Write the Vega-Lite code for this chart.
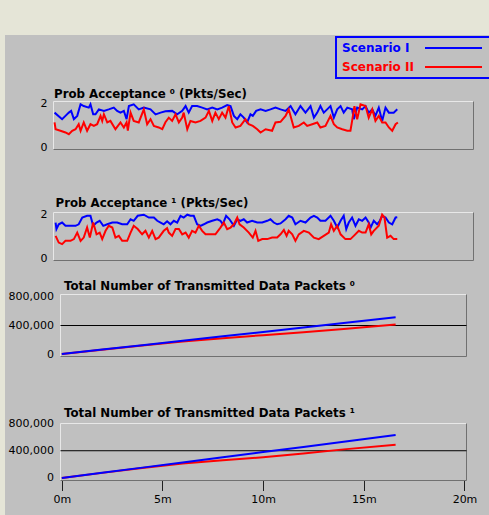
{
"$schema": "https://vega.github.io/schema/vega-lite/v6.json",
"width": 484, "height": 480,
"autosize": {"type": "none"},
"padding": {"left": 5, "top": 35, "right": 0, "bottom": 0},
"background": "#e5e5d7",
"config": {
  "view": {"fill": "#c0c0c0", "stroke": null},
  "font": "DejaVu Sans",
  "axis": {"domain": false, "ticks": false, "grid": false, "tickSize": 0, "labelFont": "DejaVu Sans", "labelFontSize": 11, "labelColor": "#000000", "titleFont": "DejaVu Sans", "titleFontSize": 11.8, "titleFontWeight": "bold", "titleColor": "#000000", "titleAngle": 0, "titleAlign": "left", "titleBaseline": "alphabetic", "labelPadding": 6.5},
  "legend": {"strokeWidth": 2}
},
"datasets": {
"p1": [
{"t":0.05,"v":1.59,"s":"Scenario I"},{"t":0.41,"v":1.29,"s":"Scenario I"},{"t":0.57,"v":1.44,"s":"Scenario I"},{"t":0.73,"v":1.59,"s":"Scenario I"},{"t":0.84,"v":1.67,"s":"Scenario I"},{"t":0.97,"v":1.29,"s":"Scenario I"},{"t":1.13,"v":1.44,"s":"Scenario I"},{"t":1.29,"v":1.97,"s":"Scenario I"},{"t":1.44,"v":1.89,"s":"Scenario I"},{"t":1.68,"v":1.82,"s":"Scenario I"},{"t":1.76,"v":1.97,"s":"Scenario I"},{"t":1.89,"v":1.51,"s":"Scenario I"},{"t":2.0,"v":1.51,"s":"Scenario I"},{"t":2.16,"v":1.74,"s":"Scenario I"},{"t":2.4,"v":1.67,"s":"Scenario I"},{"t":2.63,"v":1.74,"s":"Scenario I"},{"t":2.87,"v":1.82,"s":"Scenario I"},{"t":3.03,"v":1.67,"s":"Scenario I"},{"t":3.19,"v":1.59,"s":"Scenario I"},{"t":3.35,"v":1.67,"s":"Scenario I"},{"t":3.48,"v":1.29,"s":"Scenario I"},{"t":3.59,"v":1.89,"s":"Scenario I"},{"t":3.82,"v":1.97,"s":"Scenario I"},{"t":4.06,"v":1.74,"s":"Scenario I"},{"t":4.3,"v":1.82,"s":"Scenario I"},{"t":4.62,"v":1.74,"s":"Scenario I"},{"t":4.86,"v":1.51,"s":"Scenario I"},{"t":5.1,"v":1.59,"s":"Scenario I"},{"t":5.33,"v":1.65,"s":"Scenario I"},{"t":5.65,"v":1.67,"s":"Scenario I"},{"t":5.89,"v":1.51,"s":"Scenario I"},{"t":6.13,"v":1.67,"s":"Scenario I"},{"t":6.29,"v":1.89,"s":"Scenario I"},{"t":6.44,"v":1.59,"s":"Scenario I"},{"t":6.6,"v":1.89,"s":"Scenario I"},{"t":6.84,"v":1.89,"s":"Scenario I"},{"t":7.08,"v":1.82,"s":"Scenario I"},{"t":7.32,"v":1.74,"s":"Scenario I"},{"t":7.56,"v":1.82,"s":"Scenario I"},{"t":7.8,"v":1.74,"s":"Scenario I"},{"t":8.03,"v":1.82,"s":"Scenario I"},{"t":8.27,"v":1.94,"s":"Scenario I"},{"t":8.43,"v":1.89,"s":"Scenario I"},{"t":8.59,"v":1.44,"s":"Scenario I"},{"t":8.75,"v":1.29,"s":"Scenario I"},{"t":8.9,"v":1.51,"s":"Scenario I"},{"t":9.06,"v":1.36,"s":"Scenario I"},{"t":9.22,"v":1.14,"s":"Scenario I"},{"t":9.38,"v":1.51,"s":"Scenario I"},{"t":9.49,"v":1.44,"s":"Scenario I"},{"t":9.65,"v":1.67,"s":"Scenario I"},{"t":9.86,"v":1.74,"s":"Scenario I"},{"t":10.1,"v":1.67,"s":"Scenario I"},{"t":10.33,"v":1.74,"s":"Scenario I"},{"t":10.57,"v":1.82,"s":"Scenario I"},{"t":10.81,"v":1.74,"s":"Scenario I"},{"t":11.05,"v":1.67,"s":"Scenario I"},{"t":11.29,"v":1.89,"s":"Scenario I"},{"t":11.52,"v":1.51,"s":"Scenario I"},{"t":11.76,"v":1.89,"s":"Scenario I"},{"t":12.0,"v":1.59,"s":"Scenario I"},{"t":12.24,"v":1.89,"s":"Scenario I"},{"t":12.4,"v":1.36,"s":"Scenario I"},{"t":12.56,"v":1.59,"s":"Scenario I"},{"t":12.71,"v":1.89,"s":"Scenario I"},{"t":12.87,"v":1.59,"s":"Scenario I"},{"t":13.03,"v":1.74,"s":"Scenario I"},{"t":13.19,"v":1.89,"s":"Scenario I"},{"t":13.35,"v":1.36,"s":"Scenario I"},{"t":13.51,"v":1.74,"s":"Scenario I"},{"t":13.67,"v":1.89,"s":"Scenario I"},{"t":13.82,"v":1.59,"s":"Scenario I"},{"t":13.99,"v":1.82,"s":"Scenario I"},{"t":14.22,"v":1.74,"s":"Scenario I"},{"t":14.3,"v":1.29,"s":"Scenario I"},{"t":14.46,"v":1.82,"s":"Scenario I"},{"t":14.7,"v":1.74,"s":"Scenario I"},{"t":14.86,"v":1.89,"s":"Scenario I"},{"t":15.01,"v":1.59,"s":"Scenario I"},{"t":15.18,"v":1.74,"s":"Scenario I"},{"t":15.33,"v":1.44,"s":"Scenario I"},{"t":15.49,"v":1.82,"s":"Scenario I"},{"t":15.65,"v":1.21,"s":"Scenario I"},{"t":15.81,"v":1.82,"s":"Scenario I"},{"t":15.97,"v":1.59,"s":"Scenario I"},{"t":16.2,"v":1.59,"s":"Scenario I"},{"t":16.37,"v":1.74,"s":"Scenario I"},
{"t":0.05,"v":1.14,"s":"Scenario II"},{"t":0.1,"v":0.83,"s":"Scenario II"},{"t":0.33,"v":0.76,"s":"Scenario II"},{"t":0.57,"v":0.68,"s":"Scenario II"},{"t":0.73,"v":0.6,"s":"Scenario II"},{"t":0.89,"v":0.76,"s":"Scenario II"},{"t":1.05,"v":0.83,"s":"Scenario II"},{"t":1.2,"v":1.06,"s":"Scenario II"},{"t":1.29,"v":0.76,"s":"Scenario II"},{"t":1.44,"v":1.14,"s":"Scenario II"},{"t":1.6,"v":0.76,"s":"Scenario II"},{"t":1.76,"v":1.06,"s":"Scenario II"},{"t":1.92,"v":0.98,"s":"Scenario II"},{"t":2.08,"v":1.06,"s":"Scenario II"},{"t":2.24,"v":1.44,"s":"Scenario II"},{"t":2.32,"v":1.21,"s":"Scenario II"},{"t":2.4,"v":1.51,"s":"Scenario II"},{"t":2.56,"v":1.14,"s":"Scenario II"},{"t":2.71,"v":1.21,"s":"Scenario II"},{"t":2.95,"v":0.83,"s":"Scenario II"},{"t":3.19,"v":1.14,"s":"Scenario II"},{"t":3.35,"v":0.91,"s":"Scenario II"},{"t":3.48,"v":1.14,"s":"Scenario II"},{"t":3.54,"v":0.77,"s":"Scenario II"},{"t":3.67,"v":1.59,"s":"Scenario II"},{"t":3.82,"v":1.21,"s":"Scenario II"},{"t":4.06,"v":1.14,"s":"Scenario II"},{"t":4.3,"v":1.74,"s":"Scenario II"},{"t":4.46,"v":1.06,"s":"Scenario II"},{"t":4.62,"v":1.29,"s":"Scenario II"},{"t":4.78,"v":0.98,"s":"Scenario II"},{"t":5.01,"v":0.91,"s":"Scenario II"},{"t":5.18,"v":0.83,"s":"Scenario II"},{"t":5.33,"v":1.15,"s":"Scenario II"},{"t":5.49,"v":1.36,"s":"Scenario II"},{"t":5.65,"v":1.21,"s":"Scenario II"},{"t":5.81,"v":1.51,"s":"Scenario II"},{"t":5.97,"v":1.14,"s":"Scenario II"},{"t":6.13,"v":1.36,"s":"Scenario II"},{"t":6.2,"v":1.59,"s":"Scenario II"},{"t":6.37,"v":0.83,"s":"Scenario II"},{"t":6.52,"v":1.21,"s":"Scenario II"},{"t":6.76,"v":1.14,"s":"Scenario II"},{"t":7.0,"v":1.21,"s":"Scenario II"},{"t":7.24,"v":1.36,"s":"Scenario II"},{"t":7.4,"v":1.67,"s":"Scenario II"},{"t":7.56,"v":1.21,"s":"Scenario II"},{"t":7.71,"v":1.59,"s":"Scenario II"},{"t":7.87,"v":1.29,"s":"Scenario II"},{"t":8.03,"v":1.59,"s":"Scenario II"},{"t":8.19,"v":1.36,"s":"Scenario II"},{"t":8.35,"v":1.89,"s":"Scenario II"},{"t":8.51,"v":1.14,"s":"Scenario II"},{"t":8.67,"v":0.91,"s":"Scenario II"},{"t":8.9,"v":0.98,"s":"Scenario II"},{"t":9.14,"v":1.29,"s":"Scenario II"},{"t":9.3,"v":1.06,"s":"Scenario II"},{"t":9.49,"v":0.98,"s":"Scenario II"},{"t":9.7,"v":0.83,"s":"Scenario II"},{"t":9.86,"v":0.68,"s":"Scenario II"},{"t":10.1,"v":0.83,"s":"Scenario II"},{"t":10.41,"v":0.76,"s":"Scenario II"},{"t":10.57,"v":1.14,"s":"Scenario II"},{"t":10.81,"v":1.17,"s":"Scenario II"},{"t":11.05,"v":1.44,"s":"Scenario II"},{"t":11.2,"v":1.74,"s":"Scenario II"},{"t":11.44,"v":0.91,"s":"Scenario II"},{"t":11.68,"v":0.98,"s":"Scenario II"},{"t":11.92,"v":1.14,"s":"Scenario II"},{"t":12.08,"v":0.98,"s":"Scenario II"},{"t":12.32,"v":1.06,"s":"Scenario II"},{"t":12.56,"v":1.14,"s":"Scenario II"},{"t":12.71,"v":0.91,"s":"Scenario II"},{"t":12.95,"v":0.98,"s":"Scenario II"},{"t":13.19,"v":1.44,"s":"Scenario II"},{"t":13.35,"v":1.06,"s":"Scenario II"},{"t":13.51,"v":0.91,"s":"Scenario II"},{"t":13.75,"v":0.83,"s":"Scenario II"},{"t":13.99,"v":0.76,"s":"Scenario II"},{"t":14.14,"v":0.76,"s":"Scenario II"},{"t":14.22,"v":1.21,"s":"Scenario II"},{"t":14.33,"v":1.89,"s":"Scenario II"},{"t":14.46,"v":1.29,"s":"Scenario II"},{"t":14.62,"v":1.97,"s":"Scenario II"},{"t":14.86,"v":1.89,"s":"Scenario II"},{"t":15.01,"v":1.36,"s":"Scenario II"},{"t":15.18,"v":1.74,"s":"Scenario II"},{"t":15.33,"v":1.21,"s":"Scenario II"},{"t":15.49,"v":1.44,"s":"Scenario II"},{"t":15.65,"v":1.14,"s":"Scenario II"},{"t":15.81,"v":1.14,"s":"Scenario II"},{"t":15.97,"v":0.91,"s":"Scenario II"},{"t":16.13,"v":0.76,"s":"Scenario II"},{"t":16.29,"v":1.06,"s":"Scenario II"},{"t":16.4,"v":1.14,"s":"Scenario II"}
],
"p2": [
{"t":0.1,"v":1.64,"s":"Scenario I"},{"t":0.14,"v":1.34,"s":"Scenario I"},{"t":0.25,"v":1.56,"s":"Scenario I"},{"t":0.41,"v":1.64,"s":"Scenario I"},{"t":0.57,"v":1.49,"s":"Scenario I"},{"t":0.81,"v":1.49,"s":"Scenario I"},{"t":1.05,"v":1.49,"s":"Scenario I"},{"t":1.2,"v":1.56,"s":"Scenario I"},{"t":1.37,"v":1.87,"s":"Scenario I"},{"t":1.6,"v":1.95,"s":"Scenario I"},{"t":1.76,"v":1.95,"s":"Scenario I"},{"t":1.89,"v":1.49,"s":"Scenario I"},{"t":2.05,"v":1.64,"s":"Scenario I"},{"t":2.2,"v":1.72,"s":"Scenario I"},{"t":2.37,"v":1.49,"s":"Scenario I"},{"t":2.56,"v":1.56,"s":"Scenario I"},{"t":2.8,"v":1.64,"s":"Scenario I"},{"t":3.03,"v":1.64,"s":"Scenario I"},{"t":3.27,"v":1.56,"s":"Scenario I"},{"t":3.51,"v":1.56,"s":"Scenario I"},{"t":3.67,"v":1.79,"s":"Scenario I"},{"t":3.82,"v":1.72,"s":"Scenario I"},{"t":4.01,"v":1.95,"s":"Scenario I"},{"t":4.3,"v":2.0,"s":"Scenario I"},{"t":4.54,"v":1.87,"s":"Scenario I"},{"t":4.78,"v":1.87,"s":"Scenario I"},{"t":4.94,"v":1.72,"s":"Scenario I"},{"t":5.1,"v":1.64,"s":"Scenario I"},{"t":5.25,"v":1.56,"s":"Scenario I"},{"t":5.41,"v":1.7,"s":"Scenario I"},{"t":5.57,"v":1.56,"s":"Scenario I"},{"t":5.73,"v":1.72,"s":"Scenario I"},{"t":5.89,"v":1.64,"s":"Scenario I"},{"t":6.05,"v":1.95,"s":"Scenario I"},{"t":6.2,"v":1.87,"s":"Scenario I"},{"t":6.37,"v":2.0,"s":"Scenario I"},{"t":6.52,"v":1.95,"s":"Scenario I"},{"t":6.68,"v":1.95,"s":"Scenario I"},{"t":6.84,"v":1.56,"s":"Scenario I"},{"t":7.0,"v":1.49,"s":"Scenario I"},{"t":7.16,"v":1.56,"s":"Scenario I"},{"t":7.32,"v":1.64,"s":"Scenario I"},{"t":7.56,"v":1.72,"s":"Scenario I"},{"t":7.8,"v":1.79,"s":"Scenario I"},{"t":7.95,"v":1.72,"s":"Scenario I"},{"t":8.06,"v":1.56,"s":"Scenario I"},{"t":8.22,"v":1.95,"s":"Scenario I"},{"t":8.38,"v":1.79,"s":"Scenario I"},{"t":8.59,"v":1.49,"s":"Scenario I"},{"t":8.75,"v":1.79,"s":"Scenario I"},{"t":8.9,"v":1.72,"s":"Scenario I"},{"t":9.06,"v":1.79,"s":"Scenario I"},{"t":9.22,"v":1.64,"s":"Scenario I"},{"t":9.46,"v":1.72,"s":"Scenario I"},{"t":9.7,"v":1.64,"s":"Scenario I"},{"t":9.94,"v":1.64,"s":"Scenario I"},{"t":10.18,"v":1.72,"s":"Scenario I"},{"t":10.33,"v":1.79,"s":"Scenario I"},{"t":10.49,"v":1.64,"s":"Scenario I"},{"t":10.65,"v":1.56,"s":"Scenario I"},{"t":10.81,"v":1.6,"s":"Scenario I"},{"t":11.05,"v":1.79,"s":"Scenario I"},{"t":11.2,"v":1.95,"s":"Scenario I"},{"t":11.37,"v":1.87,"s":"Scenario I"},{"t":11.52,"v":1.56,"s":"Scenario I"},{"t":11.76,"v":1.72,"s":"Scenario I"},{"t":12.0,"v":1.64,"s":"Scenario I"},{"t":12.24,"v":1.87,"s":"Scenario I"},{"t":12.4,"v":1.95,"s":"Scenario I"},{"t":12.56,"v":1.87,"s":"Scenario I"},{"t":12.71,"v":1.72,"s":"Scenario I"},{"t":12.95,"v":1.72,"s":"Scenario I"},{"t":13.19,"v":1.95,"s":"Scenario I"},{"t":13.35,"v":1.72,"s":"Scenario I"},{"t":13.51,"v":1.41,"s":"Scenario I"},{"t":13.67,"v":1.72,"s":"Scenario I"},{"t":13.82,"v":1.95,"s":"Scenario I"},{"t":13.94,"v":1.34,"s":"Scenario I"},{"t":14.06,"v":1.64,"s":"Scenario I"},{"t":14.22,"v":1.87,"s":"Scenario I"},{"t":14.38,"v":1.49,"s":"Scenario I"},{"t":14.54,"v":1.79,"s":"Scenario I"},{"t":14.7,"v":1.72,"s":"Scenario I"},{"t":14.86,"v":1.87,"s":"Scenario I"},{"t":15.01,"v":1.64,"s":"Scenario I"},{"t":15.1,"v":1.41,"s":"Scenario I"},{"t":15.25,"v":1.72,"s":"Scenario I"},{"t":15.41,"v":1.56,"s":"Scenario I"},{"t":15.54,"v":1.72,"s":"Scenario I"},{"t":15.65,"v":1.95,"s":"Scenario I"},{"t":15.81,"v":1.87,"s":"Scenario I"},{"t":15.97,"v":1.64,"s":"Scenario I"},{"t":16.13,"v":1.56,"s":"Scenario I"},{"t":16.29,"v":1.87,"s":"Scenario I"},{"t":16.37,"v":1.88,"s":"Scenario I"},
{"t":0.1,"v":1.03,"s":"Scenario II"},{"t":0.25,"v":0.72,"s":"Scenario II"},{"t":0.41,"v":0.65,"s":"Scenario II"},{"t":0.57,"v":0.8,"s":"Scenario II"},{"t":0.81,"v":0.8,"s":"Scenario II"},{"t":0.97,"v":0.88,"s":"Scenario II"},{"t":1.13,"v":1.18,"s":"Scenario II"},{"t":1.29,"v":0.8,"s":"Scenario II"},{"t":1.44,"v":0.95,"s":"Scenario II"},{"t":1.6,"v":1.41,"s":"Scenario II"},{"t":1.73,"v":0.95,"s":"Scenario II"},{"t":1.89,"v":1.64,"s":"Scenario II"},{"t":2.05,"v":1.1,"s":"Scenario II"},{"t":2.2,"v":1.18,"s":"Scenario II"},{"t":2.32,"v":0.88,"s":"Scenario II"},{"t":2.48,"v":1.26,"s":"Scenario II"},{"t":2.63,"v":1.49,"s":"Scenario II"},{"t":2.8,"v":1.41,"s":"Scenario II"},{"t":2.95,"v":0.95,"s":"Scenario II"},{"t":3.11,"v":1.03,"s":"Scenario II"},{"t":3.27,"v":0.8,"s":"Scenario II"},{"t":3.51,"v":0.8,"s":"Scenario II"},{"t":3.67,"v":1.18,"s":"Scenario II"},{"t":3.82,"v":1.49,"s":"Scenario II"},{"t":4.01,"v":1.34,"s":"Scenario II"},{"t":4.22,"v":1.1,"s":"Scenario II"},{"t":4.38,"v":1.26,"s":"Scenario II"},{"t":4.54,"v":0.95,"s":"Scenario II"},{"t":4.7,"v":1.26,"s":"Scenario II"},{"t":4.86,"v":0.88,"s":"Scenario II"},{"t":5.01,"v":0.95,"s":"Scenario II"},{"t":5.25,"v":1.26,"s":"Scenario II"},{"t":5.41,"v":1.38,"s":"Scenario II"},{"t":5.49,"v":1.18,"s":"Scenario II"},{"t":5.65,"v":1.03,"s":"Scenario II"},{"t":5.81,"v":1.34,"s":"Scenario II"},{"t":5.97,"v":1.34,"s":"Scenario II"},{"t":6.13,"v":1.1,"s":"Scenario II"},{"t":6.29,"v":1.18,"s":"Scenario II"},{"t":6.44,"v":0.95,"s":"Scenario II"},{"t":6.6,"v":1.26,"s":"Scenario II"},{"t":6.76,"v":1.18,"s":"Scenario II"},{"t":6.92,"v":1.49,"s":"Scenario II"},{"t":7.08,"v":1.26,"s":"Scenario II"},{"t":7.24,"v":1.1,"s":"Scenario II"},{"t":7.48,"v":1.1,"s":"Scenario II"},{"t":7.71,"v":1.1,"s":"Scenario II"},{"t":7.95,"v":1.41,"s":"Scenario II"},{"t":8.11,"v":1.64,"s":"Scenario II"},{"t":8.27,"v":1.34,"s":"Scenario II"},{"t":8.43,"v":1.41,"s":"Scenario II"},{"t":8.59,"v":1.56,"s":"Scenario II"},{"t":8.75,"v":1.87,"s":"Scenario II"},{"t":8.86,"v":1.56,"s":"Scenario II"},{"t":9.06,"v":1.41,"s":"Scenario II"},{"t":9.3,"v":1.18,"s":"Scenario II"},{"t":9.49,"v":0.95,"s":"Scenario II"},{"t":9.62,"v":1.26,"s":"Scenario II"},{"t":9.75,"v":0.8,"s":"Scenario II"},{"t":9.94,"v":0.88,"s":"Scenario II"},{"t":10.18,"v":0.88,"s":"Scenario II"},{"t":10.41,"v":0.95,"s":"Scenario II"},{"t":10.65,"v":0.95,"s":"Scenario II"},{"t":10.81,"v":1.1,"s":"Scenario II"},{"t":10.97,"v":1.3,"s":"Scenario II"},{"t":11.1,"v":1.03,"s":"Scenario II"},{"t":11.2,"v":1.26,"s":"Scenario II"},{"t":11.37,"v":1.1,"s":"Scenario II"},{"t":11.52,"v":0.8,"s":"Scenario II"},{"t":11.68,"v":1.1,"s":"Scenario II"},{"t":11.92,"v":1.26,"s":"Scenario II"},{"t":12.16,"v":1.18,"s":"Scenario II"},{"t":12.4,"v":0.95,"s":"Scenario II"},{"t":12.63,"v":0.88,"s":"Scenario II"},{"t":12.87,"v":1.03,"s":"Scenario II"},{"t":13.11,"v":1.18,"s":"Scenario II"},{"t":13.22,"v":1.56,"s":"Scenario II"},{"t":13.35,"v":1.26,"s":"Scenario II"},{"t":13.51,"v":1.49,"s":"Scenario II"},{"t":13.67,"v":1.1,"s":"Scenario II"},{"t":13.9,"v":0.88,"s":"Scenario II"},{"t":14.14,"v":0.88,"s":"Scenario II"},{"t":14.3,"v":1.03,"s":"Scenario II"},{"t":14.54,"v":1.26,"s":"Scenario II"},{"t":14.7,"v":1.18,"s":"Scenario II"},{"t":14.86,"v":1.18,"s":"Scenario II"},{"t":15.01,"v":1.56,"s":"Scenario II"},{"t":15.13,"v":1.1,"s":"Scenario II"},{"t":15.25,"v":1.26,"s":"Scenario II"},{"t":15.49,"v":1.49,"s":"Scenario II"},{"t":15.65,"v":2.0,"s":"Scenario II"},{"t":15.76,"v":1.87,"s":"Scenario II"},{"t":15.89,"v":0.95,"s":"Scenario II"},{"t":16.05,"v":1.03,"s":"Scenario II"},{"t":16.2,"v":0.88,"s":"Scenario II"},{"t":16.37,"v":0.88,"s":"Scenario II"}
],
"p3": [
{"t":0,"v":0,"s":"Scenario II"},{"t":2,"v":61000,"s":"Scenario II"},{"t":4,"v":120000,"s":"Scenario II"},{"t":6,"v":176000,"s":"Scenario II"},{"t":8,"v":222000,"s":"Scenario II"},{"t":10,"v":264000,"s":"Scenario II"},{"t":12,"v":306000,"s":"Scenario II"},{"t":14,"v":352000,"s":"Scenario II"},{"t":16.58,"v":414000,"s":"Scenario II"},
{"t":0,"v":0,"s":"Scenario I"},{"t":2,"v":62000,"s":"Scenario I"},{"t":4,"v":124000,"s":"Scenario I"},{"t":6,"v":186000,"s":"Scenario I"},{"t":8,"v":248000,"s":"Scenario I"},{"t":10,"v":310000,"s":"Scenario I"},{"t":12,"v":372000,"s":"Scenario I"},{"t":14,"v":434000,"s":"Scenario I"},{"t":16.58,"v":516000,"s":"Scenario I"}
],
"p4": [
{"t":0,"v":0,"s":"Scenario II"},{"t":2,"v":75000,"s":"Scenario II"},{"t":4,"v":148000,"s":"Scenario II"},{"t":6,"v":212000,"s":"Scenario II"},{"t":8,"v":260000,"s":"Scenario II"},{"t":10,"v":305000,"s":"Scenario II"},{"t":12,"v":360000,"s":"Scenario II"},{"t":14,"v":420000,"s":"Scenario II"},{"t":16.58,"v":489000,"s":"Scenario II"},
{"t":0,"v":0,"s":"Scenario I"},{"t":2,"v":76000,"s":"Scenario I"},{"t":4,"v":152000,"s":"Scenario I"},{"t":6,"v":228000,"s":"Scenario I"},{"t":8,"v":304000,"s":"Scenario I"},{"t":10,"v":380000,"s":"Scenario I"},{"t":12,"v":456000,"s":"Scenario I"},{"t":14,"v":532000,"s":"Scenario I"},{"t":16.58,"v":631000,"s":"Scenario I"}
]
},
"resolve": {"scale": {"x": "independent", "y": "independent"}},
"layer": [
{
 "layer": [
  {"data": {"values": [{}]}, "mark": {"type": "rule", "color": "#e8e8e8", "strokeWidth": 1}, "encoding": {"x": {"datum": 0, "type": "quantitative", "scale": {"domain": [0, 20], "range": [48.5, 468.5], "nice": false, "zero": false}, "axis": null}, "x2": {"datum": 20}, "y": {"datum": 2.1, "type": "quantitative", "scale": {"domain": [-0.1, 2.1], "range": [114.5, 66.5], "nice": false, "zero": false}}}},
  {"data": {"values": [{}]}, "mark": {"type": "rule", "color": "#e8e8e8", "strokeWidth": 1}, "encoding": {"x": {"datum": 0, "type": "quantitative", "scale": {"domain": [0, 20], "range": [48.5, 468.5], "nice": false, "zero": false}, "axis": null}, "y": {"datum": -0.1, "type": "quantitative", "scale": {"domain": [-0.1, 2.1], "range": [114.5, 66.5], "nice": false, "zero": false}}, "y2": {"datum": 2.1}}},
  {"data": {"values": [{}]}, "mark": {"type": "rule", "color": "#707070", "strokeWidth": 1}, "encoding": {"x": {"datum": 0, "type": "quantitative", "scale": {"domain": [0, 20], "range": [48.5, 468.5], "nice": false, "zero": false}, "axis": null}, "x2": {"datum": 20}, "y": {"datum": -0.1, "type": "quantitative", "scale": {"domain": [-0.1, 2.1], "range": [114.5, 66.5], "nice": false, "zero": false}}}},
  {"data": {"values": [{}]}, "mark": {"type": "rule", "color": "#707070", "strokeWidth": 1}, "encoding": {"x": {"datum": 20, "type": "quantitative", "scale": {"domain": [0, 20], "range": [48.5, 468.5], "nice": false, "zero": false}, "axis": null}, "y": {"datum": -0.1, "type": "quantitative", "scale": {"domain": [-0.1, 2.1], "range": [114.5, 66.5], "nice": false, "zero": false}}, "y2": {"datum": 2.1}}},
  {"data": {"name": "p1"}, "mark": {"type": "line", "strokeWidth": 2},
   "encoding": {
    "x": {"field": "t", "type": "quantitative", "scale": {"domain": [0, 20], "range": [48.5, 468.5], "nice": false, "zero": false}, "axis": null},
    "y": {"field": "v", "type": "quantitative", "scale": {"domain": [-0.1, 2.1], "range": [114.5, 66.5], "nice": false, "zero": false}, "axis": {"orient": "left", "offset": -48.5, "values": [0, 2], "labelExpr": "format(datum.value, 'd')", "title": "Prob Acceptance ⁰ (Pkts/Sec)", "titleX": 0, "titleY": 62}},
    "color": {"field": "s", "type": "nominal", "scale": {"domain": ["Scenario I", "Scenario II"], "range": ["#0000ff", "#ff0000"]},
      "legend": {"orient": "none", "legendX": 331, "legendY": 2, "title": null, "padding": 5, "rowPadding": 7, "labelOffset": -11, "symbolType": "M39,0H67.5", "symbolSize": 16, "symbolStrokeWidth": 2, "labelFont": "DejaVu Sans", "labelFontSize": 12, "labelFontWeight": "bold", "labelColor": {"expr": "datum.value === 'Scenario I' ? '#0000ff' : '#ff0000'"}, "strokeColor": "#0000ff"}}
   }}
 ]
},
{
 "layer": [
  {"data": {"values": [{}]}, "mark": {"type": "rule", "color": "#e8e8e8", "strokeWidth": 1}, "encoding": {"x": {"datum": 0, "type": "quantitative", "scale": {"domain": [0, 20], "range": [48.5, 468.5], "nice": false, "zero": false}, "axis": null}, "x2": {"datum": 20}, "y": {"datum": 2.1, "type": "quantitative", "scale": {"domain": [-0.1, 2.1], "range": [225.5, 177.5], "nice": false, "zero": false}}}},
  {"data": {"values": [{}]}, "mark": {"type": "rule", "color": "#e8e8e8", "strokeWidth": 1}, "encoding": {"x": {"datum": 0, "type": "quantitative", "scale": {"domain": [0, 20], "range": [48.5, 468.5], "nice": false, "zero": false}, "axis": null}, "y": {"datum": -0.1, "type": "quantitative", "scale": {"domain": [-0.1, 2.1], "range": [225.5, 177.5], "nice": false, "zero": false}}, "y2": {"datum": 2.1}}},
  {"data": {"values": [{}]}, "mark": {"type": "rule", "color": "#707070", "strokeWidth": 1}, "encoding": {"x": {"datum": 0, "type": "quantitative", "scale": {"domain": [0, 20], "range": [48.5, 468.5], "nice": false, "zero": false}, "axis": null}, "x2": {"datum": 20}, "y": {"datum": -0.1, "type": "quantitative", "scale": {"domain": [-0.1, 2.1], "range": [225.5, 177.5], "nice": false, "zero": false}}}},
  {"data": {"values": [{}]}, "mark": {"type": "rule", "color": "#707070", "strokeWidth": 1}, "encoding": {"x": {"datum": 20, "type": "quantitative", "scale": {"domain": [0, 20], "range": [48.5, 468.5], "nice": false, "zero": false}, "axis": null}, "y": {"datum": -0.1, "type": "quantitative", "scale": {"domain": [-0.1, 2.1], "range": [225.5, 177.5], "nice": false, "zero": false}}, "y2": {"datum": 2.1}}},
  {"data": {"name": "p2"}, "mark": {"type": "line", "strokeWidth": 2},
   "encoding": {
    "x": {"field": "t", "type": "quantitative", "scale": {"domain": [0, 20], "range": [48.5, 468.5], "nice": false, "zero": false}, "axis": null},
    "y": {"field": "v", "type": "quantitative", "scale": {"domain": [-0.1, 2.1], "range": [225.5, 177.5], "nice": false, "zero": false}, "axis": {"orient": "left", "offset": -48.5, "values": [0, 2], "labelExpr": "format(datum.value, 'd')", "title": "Prob Acceptance ¹ (Pkts/Sec)", "titleX": 1.5, "titleY": 171.5}},
    "color": {"field": "s", "type": "nominal", "scale": {"domain": ["Scenario I", "Scenario II"], "range": ["#0000ff", "#ff0000"]}, "legend": null}
   }}
 ]
},
{
 "layer": [
  {"data": {"values": [{}]}, "mark": {"type": "rule", "color": "#e8e8e8", "strokeWidth": 1}, "encoding": {"x": {"datum": -0.065, "type": "quantitative", "scale": {"domain": [-0.065, 20.1], "range": [55.5, 461.5], "nice": false, "zero": false}, "axis": null}, "x2": {"datum": 20.1}, "y": {"datum": 835000, "type": "quantitative", "scale": {"domain": [-35000, 835000], "range": [321.5, 259.5], "nice": false, "zero": false}}}},
  {"data": {"values": [{}]}, "mark": {"type": "rule", "color": "#e8e8e8", "strokeWidth": 1}, "encoding": {"x": {"datum": -0.065, "type": "quantitative", "scale": {"domain": [-0.065, 20.1], "range": [55.5, 461.5], "nice": false, "zero": false}, "axis": null}, "y": {"datum": -35000, "type": "quantitative", "scale": {"domain": [-35000, 835000], "range": [321.5, 259.5], "nice": false, "zero": false}}, "y2": {"datum": 835000}}},
  {"data": {"values": [{}]}, "mark": {"type": "rule", "color": "#707070", "strokeWidth": 1}, "encoding": {"x": {"datum": -0.065, "type": "quantitative", "scale": {"domain": [-0.065, 20.1], "range": [55.5, 461.5], "nice": false, "zero": false}, "axis": null}, "x2": {"datum": 20.1}, "y": {"datum": -35000, "type": "quantitative", "scale": {"domain": [-35000, 835000], "range": [321.5, 259.5], "nice": false, "zero": false}}}},
  {"data": {"values": [{}]}, "mark": {"type": "rule", "color": "#707070", "strokeWidth": 1}, "encoding": {"x": {"datum": 20.1, "type": "quantitative", "scale": {"domain": [-0.065, 20.1], "range": [55.5, 461.5], "nice": false, "zero": false}, "axis": null}, "y": {"datum": -35000, "type": "quantitative", "scale": {"domain": [-35000, 835000], "range": [321.5, 259.5], "nice": false, "zero": false}}, "y2": {"datum": 835000}}},
  {"data": {"values": [{}]}, "mark": {"type": "rule", "color": "#000000", "strokeWidth": 1}, "encoding": {"x": {"datum": -0.065, "type": "quantitative", "scale": {"domain": [-0.065, 20.1], "range": [55.5, 461.5], "nice": false, "zero": false}, "axis": null}, "x2": {"datum": 20.1}, "y": {"datum": 400000, "type": "quantitative", "scale": {"domain": [-35000, 835000], "range": [321.5, 259.5], "nice": false, "zero": false}}}},
  {"data": {"name": "p3"}, "mark": {"type": "line", "strokeWidth": 2},
   "encoding": {
    "x": {"field": "t", "type": "quantitative", "scale": {"domain": [-0.065, 20.1], "range": [55.5, 461.5], "nice": false, "zero": false}, "axis": null},
    "y": {"field": "v", "type": "quantitative", "scale": {"domain": [-35000, 835000], "range": [321.5, 259.5], "nice": false, "zero": false}, "axis": {"orient": "left", "offset": -55.5, "values": [0, 400000, 800000], "labelExpr": "format(datum.value, ',')", "labelPadding": 7, "title": "Total Number of Transmitted Data Packets ⁰", "titleX": 3, "titleY": 254.5}},
    "color": {"field": "s", "type": "nominal", "scale": {"domain": ["Scenario I", "Scenario II"], "range": ["#0000ff", "#ff0000"]}, "legend": null}
   }}
 ]
},
{
 "layer": [
  {"data": {"values": [{}]}, "mark": {"type": "rule", "color": "#e8e8e8", "strokeWidth": 1}, "encoding": {"x": {"datum": -0.065, "type": "quantitative", "scale": {"domain": [-0.065, 20.1], "range": [55.5, 461.5], "nice": false, "zero": false}}, "x2": {"datum": 20.1}, "y": {"datum": 800000, "type": "quantitative", "scale": {"domain": [-37000, 800000], "range": [445.5, 388.5], "nice": false, "zero": false}}}},
  {"data": {"values": [{}]}, "mark": {"type": "rule", "color": "#e8e8e8", "strokeWidth": 1}, "encoding": {"x": {"datum": -0.065, "type": "quantitative", "scale": {"domain": [-0.065, 20.1], "range": [55.5, 461.5], "nice": false, "zero": false}}, "y": {"datum": -37000, "type": "quantitative", "scale": {"domain": [-37000, 800000], "range": [445.5, 388.5], "nice": false, "zero": false}}, "y2": {"datum": 800000}}},
  {"data": {"values": [{}]}, "mark": {"type": "rule", "color": "#707070", "strokeWidth": 1}, "encoding": {"x": {"datum": -0.065, "type": "quantitative", "scale": {"domain": [-0.065, 20.1], "range": [55.5, 461.5], "nice": false, "zero": false}}, "x2": {"datum": 20.1}, "y": {"datum": -37000, "type": "quantitative", "scale": {"domain": [-37000, 800000], "range": [445.5, 388.5], "nice": false, "zero": false}}}},
  {"data": {"values": [{}]}, "mark": {"type": "rule", "color": "#707070", "strokeWidth": 1}, "encoding": {"x": {"datum": 20.1, "type": "quantitative", "scale": {"domain": [-0.065, 20.1], "range": [55.5, 461.5], "nice": false, "zero": false}}, "y": {"datum": -37000, "type": "quantitative", "scale": {"domain": [-37000, 800000], "range": [445.5, 388.5], "nice": false, "zero": false}}, "y2": {"datum": 800000}}},
  {"data": {"values": [{}]}, "mark": {"type": "rule", "color": "#000000", "strokeWidth": 1}, "encoding": {"x": {"datum": -0.065, "type": "quantitative", "scale": {"domain": [-0.065, 20.1], "range": [55.5, 461.5], "nice": false, "zero": false}}, "x2": {"datum": 20.1}, "y": {"datum": 400000, "type": "quantitative", "scale": {"domain": [-37000, 800000], "range": [445.5, 388.5], "nice": false, "zero": false}}}},
  {"data": {"name": "p4"}, "mark": {"type": "line", "strokeWidth": 2},
   "encoding": {
    "x": {"field": "t", "type": "quantitative", "scale": {"domain": [-0.065, 20.1], "range": [55.5, 461.5], "nice": false, "zero": false}, "axis": {"orient": "bottom", "offset": -34.5, "values": [0, 5, 10, 15, 20], "labelExpr": "datum.value + 'm'", "ticks": true, "tickSize": 10, "tickColor": "#202020", "tickWidth": 1, "labelPadding": 3, "labelFlush": false, "title": null}},
    "y": {"field": "v", "type": "quantitative", "scale": {"domain": [-37000, 800000], "range": [445.5, 388.5], "nice": false, "zero": false}, "axis": {"orient": "left", "offset": -55.5, "values": [0, 400000, 800000], "labelExpr": "format(datum.value, ',')", "labelPadding": 7, "title": "Total Number of Transmitted Data Packets ¹", "titleX": 3, "titleY": 381}},
    "color": {"field": "s", "type": "nominal", "scale": {"domain": ["Scenario I", "Scenario II"], "range": ["#0000ff", "#ff0000"]}, "legend": null}
   }}
 ]
}
]
}
